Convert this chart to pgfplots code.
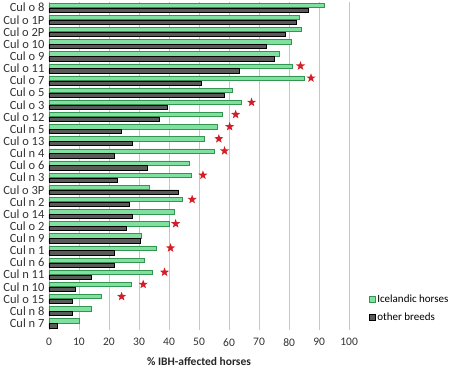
\documentclass[border=0pt]{standalone}
\usepackage{pgfplots}
\pgfplotsset{compat=1.18}
\usepackage{fontspec}
\setmainfont{Carlito}
\usetikzlibrary{shapes.geometric}
\definecolor{icegreen}{RGB}{128,224,160}
\definecolor{iceedge}{RGB}{50,150,80}
\definecolor{othfill}{RGB}{90,90,90}
\definecolor{starred}{RGB}{210,30,40}
\pgfdeclareplotmark{redstar}{\node[star,star points=5,star point ratio=2.4,fill=starred,draw=none,inner sep=0pt,minimum size=9.5pt]{};}
\begin{document}
\begin{tikzpicture}
\begin{axis}[
  scale only axis,
  width=300.5pt, height=328pt,
  y dir=reverse,
  xmin=0, xmax=100,
  ymin=-0.45, ymax=26.55,
  xtick={0,10,...,100},
  ytick={0,...,26},
  yticklabels={Cul o 8,Cul o 1P,Cul o 2P,Cul o 10,Cul o 9,Cul o 11,Cul o 7,Cul o 5,Cul o 3,Cul o 12,Cul n 5,Cul o 13,Cul n 4,Cul o 6,Cul n 3,Cul o 3P,Cul n 2,Cul o 14,Cul o 2,Cul n 9,Cul n 1,Cul n 6,Cul n 11,Cul n 10,Cul o 15,Cul n 8,Cul n 7},
  tick label style={text=black!80},
  xticklabel style={font=\fontsize{11.5}{12}\selectfont, yshift=-5pt},
  yticklabel style={font=\fontsize{12.5}{13}\selectfont, xshift=-1pt},
  /pgf/number format/assume math mode=true,
  major tick length=0pt,
  xmajorgrids,
  grid style={draw=black!22, line width=0.6pt},
  axis x line*=bottom,
  axis y line*=left,
  x axis line style={draw=none},
  y axis line style={draw=black!30, line width=0.6pt},
  xlabel={\textbf{\% IBH-affected horses}},
  xlabel style={font=\fontsize{11.5}{12}\selectfont, text=black!85, yshift=-4pt},
  legend style={at={(1.065,0.066)}, anchor=west, draw=none, fill=none,
    font=\fontsize{11}{12}\selectfont, row sep=5pt, inner sep=0pt,
    legend cell align=left},
  legend image code/.code={\draw[#1, line width=0.5pt] (0pt,-3pt) rectangle (6pt,3pt);},
  clip=false,
]
\addplot[xbar, bar width=4.3pt, fill=icegreen, draw=iceedge, line width=0.5pt, bar shift=2.4pt] coordinates {
(91.6,0) (83.5,1) (84.2,2) (80.8,3) (76.7,4) (81.0,5) (85.2,6) (61.0,7) (64.2,8) (57.7,9)
(56.0,10) (51.8,11) (55.0,12) (46.7,13) (47.5,14) (33.5,15) (44.3,16) (41.6,17) (40.0,18) (30.7,19)
(35.7,20) (31.7,21) (34.3,22) (27.5,23) (17.5,24) (14.2,25) (10.0,26)};
\addlegendentry{Icelandic horses}
\addplot[xbar, bar width=4.3pt, fill=othfill, draw=black, line width=0.5pt, bar shift=-2.4pt] coordinates {
(86.3,0) (82.5,1) (78.8,2) (72.4,3) (75.0,4) (63.5,5) (50.7,6) (58.5,7) (39.4,8) (36.8,9)
(24.0,10) (27.9,11) (21.8,12) (32.9,13) (22.8,14) (43.2,15) (26.7,16) (27.9,17) (25.6,18) (30.4,19)
(21.8,20) (21.8,21) (14.0,22) (8.9,23) (7.6,24) (7.6,25) (2.7,26)};
\addlegendentry{other breeds}
\addplot[only marks, mark=redstar, forget plot] coordinates {
(83.8,4.8) (87.3,5.8) (67.5,7.8) (62.2,8.8) (60.2,9.8) (56.6,10.8) (58.5,11.8) (51.3,13.8)
(47.7,15.8) (42.2,17.8) (40.5,19.8) (38.5,21.8) (31.4,22.8) (24.2,23.8)};
\end{axis}
\path ([xshift=-48.5pt,yshift=-36pt]current axis.south west) rectangle ([xshift=105pt,yshift=0.5pt]current axis.north east);
\end{tikzpicture}
\end{document}
